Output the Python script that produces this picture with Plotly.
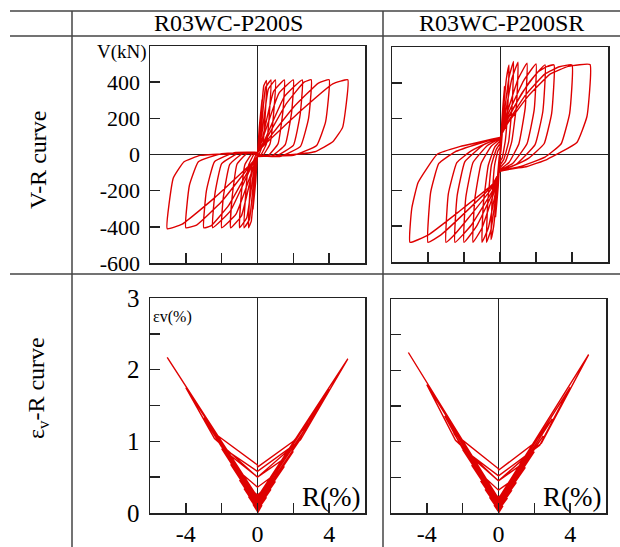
import plotly.graph_objects as go

# ---------------- data ----------------
HEADERS = ["R03WC-P200S", "R03WC-P200SR"]
ROW_LABELS = ["V-R curve", "ε<sub>v</sub>-R curve"]

VR_TICKS = [-600, -400, -200, 0, 200, 400, 600]
VR_TICKTEXT = ["-600", "-400", "-200", "0", "200", "400", ""]
EV_TICKS = [0, 0.5, 1, 1.5, 2, 2.5, 3]
EV_TICKTEXT = ["0", "", "1", "", "2", "", "3"]
R_TICKS = [-4, -2, 0, 2, 4]
R_TICKTEXT = ["-4", "", "0", "", "4"]

# V-R loops, specimen R03WC-P200S (one list per cycle)
S_VR_R = [
    [0, 0.1, 0.25, 0.2, 0.05, 0, -0.1, -0.25, -0.2, -0.05, 0],
    [0, 0.15, 0.35, 0.5, 0.45, 0.3, 0.1, 0, -0.15, -0.35, -0.5, -0.45, -0.3, -0.1, 0],
    [0, 0.2, 0.45, 0.75, 0.68, 0.5, 0.2, 0, -0.2, -0.45, -0.75, -0.68, -0.5, -0.2, 0],
    [0, 0.25, 0.6, 1.0, 0.92, 0.7, 0.3, 0, -0.25, -0.6, -1.0, -0.92, -0.7, -0.3, 0],
    [0, 0.3, 0.9, 1.5, 1.42, 1.15, 0.6, 0, -0.3, -0.9, -1.5, -1.42, -1.15, -0.6, 0],
    [0, 0.3, 1.2, 2.0, 1.9, 1.55, 0.8, 0, -0.3, -1.2, -2.0, -1.9, -1.55, -0.8, 0],
    [0, 0.4, 1.5, 2.5, 2.38, 2.0, 1.0, 0, -0.4, -1.5, -2.5, -2.38, -2.0, -1.0, 0],
    [0, 0.4, 1.6, 2.6, 3.0, 2.85, 2.4, 1.3, 0, -0.4, -1.6, -2.6, -3.0, -2.85, -2.4, -1.3, 0],
    [0, 0.4, 2.0, 3.4, 4.0, 3.8, 3.3, 2.0, 0, -0.4, -2.0, -3.4, -4.0, -3.8, -3.3, -2.0, 0],
    [0, 0.4, 2.4, 4.2, 5.04, 4.75, 4.2, 3.2, 1.5, 0, -0.4, -2.4, -4.2, -5.04, -4.7, -4.1, -3.2, -1.5, 0],
]
S_VR_V = [
    [0, 150, 300, 200, 20, 0, -150, -300, -200, -20, 0],
    [0, 150, 380, 410, 250, 60, 5, 0, -150, -370, -405, -250, -60, -5, 0],
    [0, 130, 370, 412, 250, 60, 0, -5, -130, -360, -405, -250, -60, 0, 5],
    [5, 120, 360, 413, 250, 60, -5, -5, -120, -350, -405, -240, -55, 5, 5],
    [5, 100, 350, 413, 240, 60, -5, -8, -100, -340, -405, -240, -55, 5, 8],
    [8, 90, 340, 413, 230, 55, -8, -10, -90, -330, -405, -230, -55, 8, 10],
    [10, 80, 320, 413, 220, 50, -10, -12, -80, -310, -405, -220, -50, 10, 12],
    [12, 70, 280, 400, 413, 200, 45, -10, -12, -70, -280, -395, -405, -200, -40, 10, 12],
    [12, 60, 260, 395, 413, 180, 50, -5, -12, -60, -260, -390, -405, -170, -40, 5, 12],
    [12, 55, 240, 390, 413, 150, 70, 15, -5, -12, -55, -240, -385, -410, -130, -40, -5, 5, 10],
]

# V-R loops, specimen R03WC-P200SR
SR_VR_R = [
    [0, 0.1, 0.25, 0.18, 0.05, 0, -0.1, -0.25, -0.18, -0.05, 0],
    [0, 0.15, 0.35, 0.5, 0.44, 0.3, 0.12, 0, -0.15, -0.35, -0.5, -0.44, -0.3, -0.12, 0],
    [0, 0.2, 0.5, 0.75, 0.68, 0.48, 0.2, 0, -0.2, -0.5, -0.75, -0.68, -0.48, -0.2, 0],
    [0, 0.25, 0.65, 1.0, 0.92, 0.65, 0.3, 0, -0.25, -0.65, -1.0, -0.92, -0.65, -0.3, 0],
    [0, 0.3, 1.0, 1.5, 1.4, 1.05, 0.5, 0, -0.3, -1.0, -1.5, -1.4, -1.05, -0.5, 0],
    [0, 0.3, 1.3, 2.0, 1.9, 1.5, 0.7, 0, -0.3, -1.3, -2.0, -1.9, -1.5, -0.7, 0],
    [0, 0.35, 1.6, 2.5, 2.38, 1.95, 0.9, 0, -0.35, -1.6, -2.5, -2.38, -1.95, -0.9, 0],
    [0, 0.35, 1.2, 2.1, 2.6, 3.0, 2.87, 2.45, 1.6, 0.7, 0, -0.4, -1.8, -2.6, -3.0, -2.87, -2.4, -1.6, -0.7, 0],
    [0, 0.4, 1.4, 2.5, 3.3, 4.0, 3.87, 3.4, 2.5, 1.2, 0, -0.4, -2.0, -3.3, -4.0, -3.85, -3.4, -2.5, -1.2, 0],
    [0, 0.4, 1.6, 2.8, 3.8, 5.0, 4.83, 4.27, 2.6, 1.5, 0, -0.4, -2.3, -4.0, -5.0, -4.9, -4.55, -3.5, -2.2, 0],
]
SR_VR_V = [
    [0, 180, 380, 200, 20, -10, -180, -350, -180, -20, 10],
    [10, 200, 420, 500, 280, 80, -20, -40, -200, -400, -475, -260, -60, 20, 40],
    [40, 200, 430, 520, 280, 70, -30, -60, -210, -420, -490, -270, -60, 30, 60],
    [60, 200, 420, 515, 280, 70, -40, -75, -210, -410, -490, -270, -60, 40, 75],
    [75, 200, 420, 510, 260, 60, -45, -85, -200, -410, -490, -250, -50, 45, 85],
    [85, 190, 410, 505, 250, 60, -50, -90, -190, -400, -490, -240, -45, 50, 90],
    [90, 190, 400, 500, 240, 55, -55, -92, -190, -395, -490, -230, -40, 55, 92],
    [92, 180, 340, 460, 490, 500, 230, 60, -20, -65, -93, -180, -360, -455, -490, -220, -45, 20, 65, 93],
    [93, 175, 330, 450, 490, 500, 230, 60, -15, -65, -95, -170, -330, -450, -490, -210, -50, 15, 60, 95],
    [95, 170, 330, 450, 492, 502, 212, 67, -28, -67, -95, -165, -320, -450, -490, -300, -156, 0, 45, 95],
]

# eps_v-R curves, specimen R03WC-P200S
S_EV_R = [
    [0, 0.25, 0, -0.25, 0],
    [0, 0.3, 0.5, 0, -0.5, 0],
    [0, 0.4, 0.75, 0, -0.75, 0],
    [0, 0.5, 1.0, 0, -1.0, 0],
    [0, 0.8, 1.5, 0, -1.5, 0],
    [0, 1.1, 2.0, 0, -2.0, 0],
    [0, 1.5, 2.5, 0, -2.5, 0],
    [0, 2.0, 3.0, 0, -3.0, -2.0, 0],
    [0, 2.2, 4.0, 0, -4.0, -2.4, 0],
    [0, 2.4, 5.04, 0, -5.04],
]
S_EV_E = [
    [0, 0.11, 0.02, 0.12, 0.06],
    [0.06, 0.16, 0.22, 0.04, 0.23, 0.12],
    [0.12, 0.22, 0.33, 0.06, 0.34, 0.18],
    [0.18, 0.30, 0.44, 0.08, 0.46, 0.25],
    [0.25, 0.42, 0.65, 0.10, 0.68, 0.36],
    [0.36, 0.56, 0.86, 0.12, 0.90, 0.50],
    [0.50, 0.76, 1.07, 0.15, 1.13, 0.67],
    [0.64, 1.00, 1.30, 0.18, 1.33, 0.92, 0.58],
    [0.58, 0.98, 1.73, 0.20, 1.75, 1.04, 0.50],
    [0.50, 1.02, 2.15, 0.22, 2.17],
]

# eps_v-R curves, specimen R03WC-P200SR
SR_EV_R = [
    [0, 0.25, 0, -0.25, 0],
    [0, 0.3, 0.5, 0, -0.5, 0],
    [0, 0.4, 0.75, 0, -0.75, 0],
    [0, 0.5, 1.0, 0, -1.0, 0],
    [0, 0.8, 1.5, 0, -1.5, 0],
    [0, 1.1, 2.0, 0, -2.0, 0],
    [0, 1.5, 2.5, 0, -2.5, 0],
    [0, 2.0, 3.0, 0, -3.0, -2.0, 0],
    [0, 2.3, 4.0, 0, -4.0, -2.4, 0],
    [0, 2.4, 5.03, 0, -5.03],
]
SR_EV_E = [
    [0, 0.10, 0.02, 0.11, 0.05],
    [0.05, 0.15, 0.21, 0.04, 0.22, 0.10],
    [0.10, 0.20, 0.32, 0.06, 0.33, 0.16],
    [0.16, 0.28, 0.43, 0.08, 0.45, 0.22],
    [0.22, 0.40, 0.64, 0.10, 0.67, 0.32],
    [0.32, 0.52, 0.86, 0.12, 0.89, 0.45],
    [0.45, 0.72, 1.08, 0.14, 1.12, 0.62],
    [0.60, 0.98, 1.32, 0.16, 1.36, 0.90, 0.52],
    [0.52, 0.95, 1.76, 0.18, 1.80, 1.02, 0.45],
    [0.45, 0.98, 2.22, 0.20, 2.25],
]

# ---------------- figure ----------------
W, H = 620, 547
FONT = "Liberation Serif"
RED = "rgb(222,0,0)"


def px(x):
    return x / W


def py(y):
    return 1 - y / H


def flat(cycles):
    out = []
    for c in cycles:
        out.extend(c)
    return out


fig = go.Figure()

panels = [
    (S_VR_R, S_VR_V, "x", "y", "spline"),
    (SR_VR_R, SR_VR_V, "x2", "y2", "spline"),
    (S_EV_R, S_EV_E, "x3", "y3", "linear"),
    (SR_EV_R, SR_EV_E, "x4", "y4", "linear"),
]
for rr, vv, xa, ya, shp in panels:
    ln = dict(color=RED, width=1.4, shape=shp)
    if shp == "spline":
        ln["smoothing"] = 0.35
    fig.add_trace(go.Scatter(
        x=flat(rr), y=flat(vv), xaxis=xa, yaxis=ya, mode="lines",
        line=ln, showlegend=False, hoverinfo="skip"))

frame = dict(showline=True, mirror=True, linecolor="#222", linewidth=1.5,
             ticks="inside", ticklen=10, tickwidth=1.5, tickcolor="#222",
             showgrid=False, zeroline=True, zerolinecolor="#222", zerolinewidth=1,
             automargin=False,
             tickfont=dict(family=FONT, size=22, color="black"), fixedrange=True)

doms = {
    1: ([px(150), px(365)], [py(263), py(46)]),
    2: ([px(392), px(608)], [py(262), py(47)]),
    3: ([px(150), px(365)], [py(513), py(298)]),
    4: ([px(391), px(606)], [py(513), py(299)]),
}

layout = dict(width=W, height=H,
              margin=dict(l=0, r=0, t=0, b=0, pad=0, autoexpand=False),
              paper_bgcolor="white", plot_bgcolor="white", showlegend=False)

for i in range(1, 5):
    xd, yd = doms[i]
    xk = "xaxis" if i == 1 else f"xaxis{i}"
    yk = "yaxis" if i == 1 else f"yaxis{i}"
    xa = dict(frame, domain=xd, range=[-6, 6], anchor="y" if i == 1 else f"y{i}",
              tickvals=R_TICKS)
    ya = dict(frame, domain=yd, anchor="x" if i == 1 else f"x{i}")
    if i <= 2:
        xa["showticklabels"] = False
        ya["range"] = [-600, 600]
        ya["tickvals"] = VR_TICKS
        ya["ticktext"] = VR_TICKTEXT if i == 1 else [""] * len(VR_TICKS)
    else:
        xa["ticktext"] = R_TICKTEXT
        xa["tickfont"] = dict(family=FONT, size=24, color="black")
        xa["ticklabelstandoff"] = -1
        ya["range"] = [0, 3]
        ya["zeroline"] = False
        ya["tickvals"] = EV_TICKS
        ya["ticktext"] = EV_TICKTEXT if i == 3 else [""] * len(EV_TICKS)
        ya["tickfont"] = dict(family=FONT, size=25, color="black")
    ya["ticklabelstandoff"] = 4
    layout[xk] = xa
    layout[yk] = ya

fig.update_layout(**layout)

# table lines
line_style = dict(color="#444", width=1.5)
shapes = []
for yy in (11, 36, 274):
    shapes.append(dict(type="line", xref="paper", yref="paper", x0=px(10), x1=px(620),
                       y0=py(yy), y1=py(yy), line=line_style))
for xx in (72, 383):
    shapes.append(dict(type="line", xref="paper", yref="paper", x0=px(xx), x1=px(xx),
                       y0=py(11), y1=py(547), line=line_style))
fig.update_layout(shapes=shapes)


def note(text, x, y, size, xanchor="center", yanchor="middle", angle=0):
    return dict(text=text, x=px(x), y=py(y), xref="paper", yref="paper",
                xanchor=xanchor, yanchor=yanchor, textangle=angle, showarrow=False,
                font=dict(family=FONT, size=size, color="black"))


ann = [
    note(HEADERS[0], 228, 23, 24),
    note(HEADERS[1], 501, 23, 24),
    note(ROW_LABELS[0], 38, 160, 24, angle=-90),
    note(ROW_LABELS[1], 38, 388, 24, angle=-90),
    note("V(kN)", 149, 52, 19, xanchor="right"),
    note("εv(%)", 151, 317, 16, xanchor="left"),
    note("R(%)", 331, 497, 27),
    note("R(%)", 572, 497, 27),
]
fig.update_layout(annotations=ann)

fig.write_html(
    "out.html",
    config={"displayModeBar": False, "staticPlot": True},
    post_script="document.body.style.margin='0';document.body.style.padding='0';"
                "document.body.style.overflow='hidden';",
)
